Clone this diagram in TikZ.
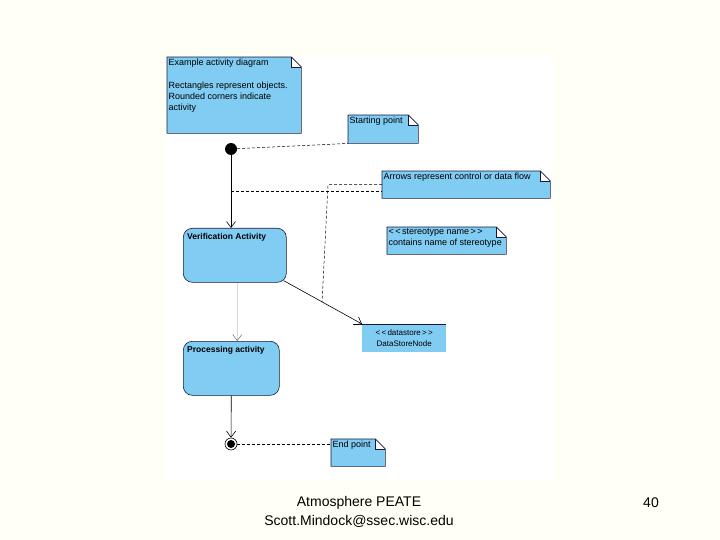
\documentclass[tikz,border=0pt]{standalone}
\usepackage{fontspec}
\setmainfont{Liberation Sans}
\usetikzlibrary{arrows.meta, positioning, calc}
\definecolor{slidebg}{RGB}{255, 255, 245}
\definecolor{noteblue}{RGB}{128, 204, 242}
\definecolor{edgenavy}{RGB}{20, 24, 60}

\tikzset{
  notebox/.style={fill=noteblue, draw=none, anchor=north west, inner sep=0pt},
  notetext/.style={anchor=north west, inner sep=1.5pt, font=\fontsize{9}{11}\selectfont, align=left},
  actbox/.style={draw=edgenavy, line width=0.6pt, fill=noteblue, rounded corners=9pt, anchor=north west, inner sep=0pt},
  acttext/.style={anchor=north west, inner sep=3pt, font=\fontsize{8.5}{10}\selectfont\bfseries},
  flow/.style={-{Straight Barb[length=6pt, width=9pt]}, line width=0.6pt},
  notelink/.style={dash pattern=on 3pt off 2pt, line width=0.5pt},
}

% folded corner and outline of a note
\newcommand{\foldnote}[1]{%
  \fill[white] ($(#1.north east)+(-10,0)$) rectangle ($(#1.north east)+(0,10)$);
  \draw[edgenavy, line width=0.6pt] (#1.north west) -- ($(#1.north east)+(-10,0)$) -- ($(#1.north east)+(0,10)$) -- (#1.south east) -- (#1.south west) -- cycle;
  \draw[edgenavy, line width=0.6pt] ($(#1.north east)+(-10,0)$) -- ($(#1.north east)+(-10,10)$) -- ($(#1.north east)+(0,10)$);
}

\begin{document}
\begin{tikzpicture}[x=1pt, y=-1pt]
  % slide and panel
  \fill[slidebg] (0,0) rectangle (720,540);
  \useasboundingbox (0,0) rectangle (720,540);
  \fill[white] (165,56) rectangle (554,480);

  % notes
  \node[notebox, minimum width=134pt, minimum height=76pt] (intro) at (167,57) {};
  \foldnote{intro}
  \node[notetext] at (intro.north west) {Example activity diagram\\[12pt]Rectangles represent objects.\\Rounded corners indicate\\activity};

  \node[notebox, minimum width=70pt, minimum height=28pt] (sp) at (348,115) {};
  \foldnote{sp}
  \node[notetext] at (sp.north west) {Starting point};

  \node[notebox, minimum width=168pt, minimum height=27pt] (an) at (382,171) {};
  \foldnote{an}
  \node[notetext] at (an.north west) {Arrows represent control or data flow};

  \node[notebox, minimum width=119pt, minimum height=27pt] (st) at (387,227) {};
  \foldnote{st}
  \node[notetext] at (st.north west) {<\,<\,stereotype name\,>\,>\\contains name of stereotype};

  \node[notebox, minimum width=54pt, minimum height=27pt] (ep) at (331,439) {};
  \foldnote{ep}
  \node[notetext] at (ep.north west) {End point};

  % activities
  \node[actbox, minimum width=103pt, minimum height=54pt] (va) at (183,228) {};
  \node[acttext] at ($(va.north west)+(1,2)$) {Verification Activity};
  \node[actbox, minimum width=96pt, minimum height=54pt] (pa) at (183,341) {};
  \node[acttext] at ($(pa.north west)+(1,2)$) {Processing activity};

  % data store
  \node[fill=noteblue, draw=none, minimum width=84pt, minimum height=28pt, anchor=north west, inner sep=0pt] (ds) at (362,324) {};
  \draw[edgenavy, line width=0.6pt] ([xshift=-9pt]ds.north west) -- (ds.north east);
  \node[font=\fontsize{8}{11}\selectfont, align=center] at (ds.center) {<\,<\,datastore\,>\,>\\DataStoreNode};

  % initial and final
  \node[circle, fill=black, minimum size=12pt, inner sep=0pt] (init) at (231,149) {};
  \node[circle, draw=black, line width=0.6pt, minimum size=12pt, inner sep=0pt] (fin) at (231,444) {};
  \fill (fin.center) circle (4);

  % control flow
  \draw[flow] (init) -- coordinate[pos=0.49] (trunk) (init |- va.north);
  \draw[flow] ($(va.south east)+(-3,-2)$) -- coordinate[pos=0.49] (dsmid) (ds.north west);
  \draw[black!15, line width=0.5pt, -{Straight Barb[length=6pt, width=9pt, color=black!60]}] ([xshift=2.5pt]va.south) -- ([xshift=6pt]pa.north);
  \draw[flow] (pa.south) -- (fin);

  % note links
  \draw[notelink] (init) -- (sp.south west);
  \draw[notelink] (trunk) -- (trunk -| an.west);
  \draw[notelink] (an.west) -- ($(an.west -| dsmid)+(6,0)$) -- (dsmid);
  \draw[notelink] (fin) -- (fin -| ep.west);

  % footer
  \node[font=\fontsize{14}{19}\selectfont, align=center] (footer) at (359,512) {Atmosphere PEATE\\Scott.Mindock@ssec.wisc.edu};
  \node[font=\fontsize{14}{19}\selectfont] (page) at (651,503) {40};
\end{tikzpicture}
\end{document}
